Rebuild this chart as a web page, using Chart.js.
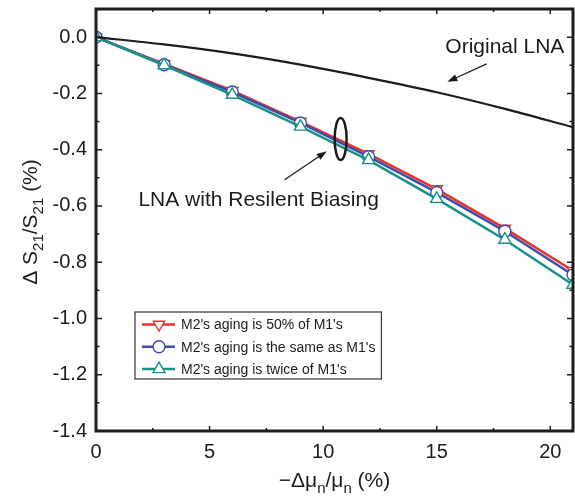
<!DOCTYPE html>
<html>
<head>
<meta charset="utf-8">
<script src="https://cdn.jsdelivr.net/npm/chart.js@4/dist/chart.umd.min.js"></script>
<style>
    html, body { margin: 0; padding: 0; background: #fff; }
    #wrap { width: 575px; height: 500px; position: relative; }
</style>
</head>
<body>
<div id="wrap"><canvas id="canvas"></canvas></div>
<script>
    // mobility degradation (%) where the curves were sampled
    var xValues = [0, 3, 6, 9, 12, 15, 18, 21];

    // delta S21 / S21 (%)
    var originalLNA = [0, -0.026, -0.058, -0.098, -0.145, -0.196, -0.255, -0.32];
    var agingHalf = [0, -0.095, -0.19, -0.30, -0.415, -0.54, -0.68, -0.83];
    var agingSame = [0, -0.098, -0.195, -0.305, -0.425, -0.552, -0.69, -0.845];
    var agingTwice = [0, -0.10, -0.205, -0.318, -0.437, -0.575, -0.72, -0.88];

    var seriesLabels = ["M2's aging is 50% of M1's", "M2's aging is the same as M1's", "M2's aging is twice of M1's"];
    var seriesColors = ['#e2362b', '#3f4cab', '#17918a'];

    var xTickValues = [0, 5, 10, 15, 20];

    var FONT = '"Liberation Sans", Arial, Helvetica, sans-serif';
    var INK = '#1c1c1c';

    function toPoints(values) {
        return values.map(function (v, i) { return { x: xValues[i], y: v }; });
    }

    // frame with inward ticks on all four sides
    var framePlugin = {
        id: 'frame',
        afterDatasetsDraw: function (chart) {
            var ctx = chart.ctx;
            var a = chart.chartArea;
            var xs = chart.scales.x, ys = chart.scales.y;
            ctx.save();
            ctx.strokeStyle = INK;
            ctx.lineWidth = 1.5;
            ctx.beginPath();
            for (var t = 2.5; t < 21; t += 2.5) {
                var px = xs.getPixelForValue(t);
                var len = (t % 5 === 0) ? 5 : 3;
                ctx.moveTo(px, a.bottom); ctx.lineTo(px, a.bottom - len);
                ctx.moveTo(px, a.top); ctx.lineTo(px, a.top + len);
            }
            for (var k = -13; k <= 0; k++) {
                var py = ys.getPixelForValue(k / 10);
                var l2 = (k % 2 === 0) ? 6 : 3.5;
                ctx.moveTo(a.left, py); ctx.lineTo(a.left + l2, py);
                ctx.moveTo(a.right, py); ctx.lineTo(a.right - l2, py);
            }
            ctx.stroke();
            ctx.lineWidth = 3;
            ctx.strokeRect(a.left, a.top, a.right - a.left, a.bottom - a.top);
            ctx.restore();
        }
    };

    function drawRich(ctx, parts, cx, baseline, size) {
        var subSize = Math.round(size * 0.72);
        var total = 0;
        parts.forEach(function (p) {
            ctx.font = (p[1] ? subSize : size) + 'px ' + FONT;
            total += ctx.measureText(p[0]).width;
        });
        var x = cx - total / 2;
        ctx.textAlign = 'left';
        ctx.textBaseline = 'alphabetic';
        parts.forEach(function (p) {
            ctx.font = (p[1] ? subSize : size) + 'px ' + FONT;
            ctx.fillText(p[0], x, baseline + (p[1] ? size * 0.3 : 0));
            x += ctx.measureText(p[0]).width;
        });
    }

    function arrow(ctx, x1, y1, x2, y2) {
        var ang = Math.atan2(y2 - y1, x2 - x1);
        var head = 10, wing = 3.5;
        ctx.beginPath();
        ctx.moveTo(x1, y1);
        ctx.lineTo(x2 - Math.cos(ang) * head * 0.8, y2 - Math.sin(ang) * head * 0.8);
        ctx.stroke();
        ctx.beginPath();
        ctx.moveTo(x2, y2);
        ctx.lineTo(x2 - Math.cos(ang) * head + Math.sin(ang) * wing, y2 - Math.sin(ang) * head - Math.cos(ang) * wing);
        ctx.lineTo(x2 - Math.cos(ang) * head - Math.sin(ang) * wing, y2 - Math.sin(ang) * head + Math.cos(ang) * wing);
        ctx.closePath();
        ctx.fill();
    }

    var notesPlugin = {
        id: 'notes',
        afterDraw: function (chart) {
            var ctx = chart.ctx;
            var a = chart.chartArea;
            var xs = chart.scales.x, ys = chart.scales.y;
            var X = function (v) { return xs.getPixelForValue(v); };
            var Y = function (v) { return ys.getPixelForValue(v); };
            ctx.save();
            ctx.fillStyle = INK;
            ctx.strokeStyle = INK;

            // annotations
            ctx.font = '21px ' + FONT;
            ctx.textAlign = 'center';
            ctx.textBaseline = 'middle';
            ctx.fillText('Original LNA', X(18.0), Y(-0.037));
            ctx.fillText('LNA with Resilent Biasing', X(7.16), Y(-0.578));

            ctx.lineWidth = 1.3;
            arrow(ctx, X(17.2), Y(-0.095), X(15.47), Y(-0.159));
            arrow(ctx, X(8.3), Y(-0.507), X(10.16), Y(-0.406));

            ctx.lineWidth = 2.5;
            ctx.beginPath();
            ctx.ellipse(X(10.77), Y(-0.362), 6, 21, 0, 0, Math.PI * 2);
            ctx.stroke();

            // axis titles
            drawRich(ctx, [['\u2212\u0394\u03bc', 0], ['n', 1], ['/\u03bc', 0], ['n', 1], [' (%)', 0]],
                (a.left + a.right) / 2, 487, 21);
            ctx.save();
            ctx.translate(37, 222);
            ctx.rotate(-Math.PI / 2);
            drawRich(ctx, [['\u0394 S', 0], ['21', 1], ['/S', 0], ['21', 1], [' (%)', 0]], 0, 0, 21);
            ctx.restore();

            // legend box
            var bx = a.left + 39, by = 312, rowH = 22.3;
            ctx.font = '14px ' + FONT;
            var tw = 0;
            seriesLabels.forEach(function (s) { tw = Math.max(tw, ctx.measureText(s).width); });
            ctx.fillStyle = '#fff';
            ctx.fillRect(bx, by, tw + 52, 67);
            ctx.lineWidth = 1.2;
            ctx.strokeStyle = '#333';
            ctx.strokeRect(bx, by, tw + 52, 67);
            var styles = [
                { pointStyle: 'triangle', radius: 6.5, rotation: 180 },
                { pointStyle: 'circle', radius: 6, rotation: 0 },
                { pointStyle: 'triangle', radius: 7, rotation: 0 }
            ];
            seriesLabels.forEach(function (s, i) {
                var cy = by + 12.5 + i * rowH;
                ctx.strokeStyle = seriesColors[i];
                ctx.lineWidth = 2.5;
                ctx.beginPath();
                ctx.moveTo(bx + 7, cy); ctx.lineTo(bx + 40, cy);
                ctx.stroke();
                ctx.fillStyle = '#fff';
                ctx.lineWidth = 1.4;
                Chart.helpers.drawPoint(ctx, {
                    pointStyle: styles[i].pointStyle, radius: styles[i].radius,
                    rotation: styles[i].rotation, borderWidth: 1.4
                }, bx + 24, cy);
                ctx.fillStyle = INK;
                ctx.font = '14px ' + FONT;
                ctx.textAlign = 'left';
                ctx.textBaseline = 'middle';
                ctx.fillText(s, bx + 46, cy + 1);
            });
            ctx.restore();
        }
    };

    function markerSet(color, style, radius, rotation) {
        return {
            borderColor: color,
            backgroundColor: color,
            borderWidth: 2.5,
            pointStyle: style,
            pointRadius: radius,
            pointRotation: rotation,
            pointBackgroundColor: '#fff',
            pointBorderColor: color,
            pointBorderWidth: 1.4,
            tension: 0
        };
    }

    var datasets = [
        Object.assign({ label: 'Original LNA', data: toPoints(originalLNA) },
            { borderColor: INK, borderWidth: 2.2, pointRadius: 0, cubicInterpolationMode: 'monotone' }),
        Object.assign({ label: seriesLabels[2], data: toPoints(agingTwice) }, markerSet(seriesColors[2], 'triangle', 7, 0)),
        Object.assign({ label: seriesLabels[1], data: toPoints(agingSame) }, markerSet(seriesColors[1], 'circle', 6, 0)),
        Object.assign({ label: seriesLabels[0], data: toPoints(agingHalf) }, markerSet(seriesColors[0], 'triangle', 6.5, 180))
    ];

    var ctx = document.getElementById('canvas').getContext('2d');
    var chart = new Chart(ctx, {
        type: 'line',
        data: { datasets: datasets },
        plugins: [framePlugin, notesPlugin],
        options: {
            responsive: true,
            maintainAspectRatio: false,
            animation: false,
            layout: { autoPadding: false, padding: { top: 9, right: 2, left: 0, bottom: 0 } },
            plugins: {
                legend: { display: false },
                tooltip: { enabled: false }
            },
            scales: {
                x: {
                    type: 'linear',
                    min: 0,
                    max: 21,
                    grid: { display: false, drawTicks: false },
                    border: { display: false },
                    afterBuildTicks: function (scale) {
                        scale.ticks = xTickValues.map(function (v) { return { value: v }; });
                    },
                    afterFit: function (scale) {
                        scale.height = 69;
                        scale.paddingLeft = 0;
                        scale.paddingRight = 0;
                    },
                    ticks: {
                        padding: 9,
                        color: INK,
                        font: { family: FONT, size: 20 },
                        maxRotation: 0,
                        autoSkip: false
                    }
                },
                y: {
                    type: 'linear',
                    min: -1.4,
                    max: 0.1,
                    grid: { display: false, drawTicks: false },
                    border: { display: false },
                    afterFit: function (scale) {
                        scale.width = 96;
                        scale.paddingTop = 0;
                        scale.paddingBottom = 0;
                    },
                    ticks: {
                        stepSize: 0.1,
                        padding: 9,
                        color: INK,
                        font: { family: FONT, size: 20 },
                        autoSkip: false,
                        callback: function (v) {
                            var k = Math.round(v * 10);
                            if (k > 0 || k % 2 !== 0) return '';
                            return (k / 10).toFixed(1);
                        }
                    }
                }
            }
        }
    });
</script>
</body>
</html>
